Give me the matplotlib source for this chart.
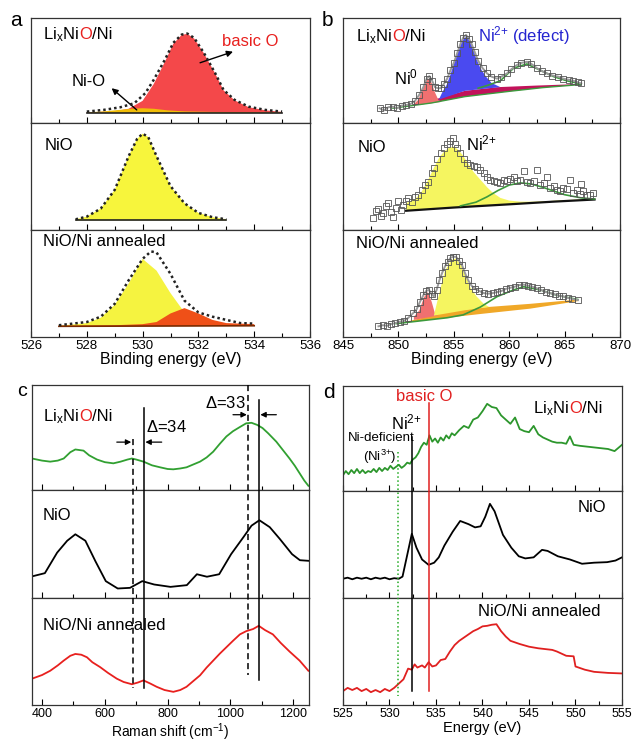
import numpy as np
import matplotlib
matplotlib.use('Agg')
import matplotlib.pyplot as plt
from matplotlib.lines import Line2D
from matplotlib.transforms import blended_transform_factory
from matplotlib.ticker import MultipleLocator

plt.rcParams['font.family'] = ['Liberation Sans', 'DejaVu Sans']
plt.rcParams['mathtext.fontset'] = 'custom'
plt.rcParams['mathtext.rm'] = 'Liberation Sans'
plt.rcParams['mathtext.it'] = 'Liberation Sans:italic'
plt.rcParams['mathtext.bf'] = 'Liberation Sans:bold'

# ---------------- data (intensities in a.u., 0..1 per sub-panel) ----------------
# a: O 1s XPS
a_top_env = [(528.0, 0.108), (528.6, 0.124), (529.2, 0.149), (529.7, 0.187), (530.1, 0.283), (530.4, 0.41),
             (530.8, 0.60), (531.1, 0.76), (531.4, 0.838), (531.6, 0.848), (531.85, 0.806), (532.2, 0.663),
             (532.6, 0.473), (532.9, 0.314), (533.3, 0.219), (533.8, 0.155), (534.4, 0.124), (535.0, 0.108)]
a_top_basic = [(528.0, 0.10), (529.0, 0.112), (529.5, 0.135), (530.0, 0.21), (530.4, 0.37), (530.8, 0.58),
               (531.1, 0.75), (531.4, 0.835), (531.6, 0.845), (531.85, 0.80), (532.2, 0.66), (532.6, 0.47),
               (532.9, 0.31), (533.3, 0.215), (533.8, 0.15), (534.4, 0.12), (535.0, 0.105)]
a_top_nio = [(528.0, 0.10), (528.6, 0.11), (529.2, 0.125), (529.6, 0.135), (530.0, 0.14), (530.4, 0.135),
             (530.9, 0.12), (531.5, 0.11), (532.5, 0.105), (535.0, 0.10)]
a_top_base = [(528.0, 0.095), (535.0, 0.095)]

a_mid_env = [(527.6, 0.10), (528.0, 0.125), (528.5, 0.20), (529.0, 0.375), (529.5, 0.69), (529.8, 0.85),
             (530.0, 0.90), (530.2, 0.87), (530.5, 0.69), (531.0, 0.41), (531.5, 0.25), (532.0, 0.16),
             (532.5, 0.12), (533.0, 0.10)]
a_mid_base = [(527.6, 0.09), (533.0, 0.09)]

a_bot_env = [(527.0, 0.11), (528.0, 0.14), (528.5, 0.19), (529.0, 0.31), (529.5, 0.53), (530.0, 0.73),
             (530.3, 0.80), (530.5, 0.79), (531.0, 0.59), (531.5, 0.34), (532.0, 0.23), (532.5, 0.19),
             (533.0, 0.16), (533.5, 0.13), (534.0, 0.125)]
a_bot_yellow = [(527.0, 0.105), (528.0, 0.13), (528.5, 0.18), (529.0, 0.30), (529.5, 0.50), (530.0, 0.73),
                (530.5, 0.62), (531.0, 0.41), (531.5, 0.23), (532.0, 0.14), (533.0, 0.11), (534.0, 0.105)]
a_bot_red = [(527.0, 0.105), (529.0, 0.11), (530.0, 0.12), (530.5, 0.14), (531.0, 0.22), (531.5, 0.27),
             (532.0, 0.22), (532.5, 0.16), (533.0, 0.13), (534.0, 0.12)]
a_bot_base = [(527.0, 0.10), (534.0, 0.105)]

# b: Ni 2p XPS
b_top_data = [(848.3, 0.14), (848.7, 0.12), (849.1, 0.15), (849.5, 0.155), (849.9, 0.14), (850.3, 0.165),
              (850.7, 0.17), (851.1, 0.18), (851.5, 0.21), (851.9, 0.27), (852.25, 0.34), (852.55, 0.42),
              (852.8, 0.445), (853.05, 0.40), (853.3, 0.34), (853.55, 0.33), (853.8, 0.33), (854.1, 0.37),
              (854.4, 0.42), (854.7, 0.50), (855.0, 0.57), (855.3, 0.66), (855.6, 0.75), (855.85, 0.81),
              (856.1, 0.835), (856.35, 0.80), (856.6, 0.75), (856.9, 0.67), (857.2, 0.59), (857.6, 0.52),
              (858.0, 0.47), (858.4, 0.44), (858.9, 0.42), (859.3, 0.44), (859.8, 0.47), (860.2, 0.51),
              (860.7, 0.55), (861.1, 0.57), (861.6, 0.58), (862.0, 0.56), (862.5, 0.52), (863.0, 0.49),
              (863.4, 0.47), (863.9, 0.45), (864.4, 0.44), (864.9, 0.42), (865.4, 0.41), (865.8, 0.40),
              (866.2, 0.385), (866.5, 0.375)]
b_top_ni0 = [(851.3, 0.17), (851.8, 0.22), (852.2, 0.33), (852.5, 0.40), (852.75, 0.42), (853.0, 0.38),
             (853.3, 0.29), (853.6, 0.22), (853.9, 0.20)]
b_top_ni0_base = [(851.3, 0.165), (853.9, 0.20)]
b_top_blue = [(853.6, 0.21), (854.0, 0.30), (854.35, 0.36), (854.7, 0.46), (855.0, 0.56), (855.3, 0.66),
              (855.6, 0.74), (855.9, 0.80), (856.1, 0.815), (856.4, 0.79), (856.7, 0.72), (857.0, 0.62),
              (857.4, 0.52), (857.9, 0.44), (858.4, 0.38), (859.2, 0.34)]
b_top_blue_base = [(853.6, 0.22), (856.0, 0.305), (859.2, 0.34)]
b_top_bg = [(849.5, 0.14), (853.0, 0.19), (856.0, 0.25), (860.0, 0.30), (863.0, 0.335), (866.5, 0.365)]
b_top_wedge = [(851.0, 0.16), (853.0, 0.215), (856.0, 0.305), (859.0, 0.34), (862.5, 0.355), (866.5, 0.37)]
b_top_sat = [(857.2, 0.33), (858.0, 0.355), (859.2, 0.40), (860.4, 0.52), (861.6, 0.56), (862.8, 0.50),
             (864.0, 0.44), (865.2, 0.40), (866.5, 0.37)]

b_mid_data = [(847.7, 0.11), (848.0, 0.18), (848.2, 0.20), (848.4, 0.13), (848.6, 0.16), (848.9, 0.22),
              (849.1, 0.25), (849.3, 0.17), (849.5, 0.125), (849.8, 0.21), (850.0, 0.27), (850.2, 0.19),
              (850.4, 0.23), (850.7, 0.27), (850.9, 0.30), (851.2, 0.26), (851.5, 0.31), (851.8, 0.33),
              (852.1, 0.375), (852.4, 0.42), (852.7, 0.45), (853.0, 0.53), (853.2, 0.58), (853.5, 0.66),
              (853.8, 0.72), (854.1, 0.766), (854.4, 0.80), (854.7, 0.83), (854.9, 0.86), (855.1, 0.80),
              (855.3, 0.77), (855.6, 0.72), (855.9, 0.66), (856.2, 0.63), (856.5, 0.61), (856.8, 0.60),
              (857.1, 0.59), (857.4, 0.56), (857.7, 0.53), (858.0, 0.50), (858.3, 0.47), (858.6, 0.46),
              (858.9, 0.45), (859.2, 0.44), (859.5, 0.47), (859.8, 0.46), (860.1, 0.48), (860.4, 0.50),
              (860.7, 0.46), (861.0, 0.47), (861.3, 0.55), (861.6, 0.45), (861.9, 0.44), (862.2, 0.46),
              (862.5, 0.56), (862.8, 0.42), (863.1, 0.44), (863.4, 0.50), (863.7, 0.39), (864.0, 0.41),
              (864.3, 0.37), (864.6, 0.36), (864.9, 0.39), (865.2, 0.38), (865.5, 0.47), (865.8, 0.35),
              (866.1, 0.37), (866.4, 0.34), (866.5, 0.43), (866.7, 0.36), (867.0, 0.33), (867.3, 0.33),
              (867.6, 0.35)]
b_mid_yellow = [(850.7, 0.25), (851.5, 0.29), (852.0, 0.34), (852.6, 0.45), (853.2, 0.58), (853.7, 0.68),
                (854.1, 0.73), (854.6, 0.77), (855.0, 0.78), (855.4, 0.75), (855.8, 0.70), (856.3, 0.62),
                (856.8, 0.54), (857.4, 0.47), (858.0, 0.40), (858.5, 0.35), (859.2, 0.30), (860.0, 0.275),
                (861.0, 0.265), (862.2, 0.265), (863.5, 0.27), (865.0, 0.28), (866.5, 0.285), (867.7, 0.29)]
b_mid_base = [(850.7, 0.18), (855.0, 0.21), (860.0, 0.24), (864.0, 0.265), (867.7, 0.285)]
b_mid_sat = [(855.6, 0.225), (857.0, 0.26), (858.0, 0.31), (859.0, 0.37), (860.0, 0.42), (861.0, 0.44),
             (862.0, 0.43), (863.0, 0.40), (864.0, 0.365), (865.0, 0.33), (866.5, 0.30), (867.7, 0.29)]

b_bot_data = [(848.2, 0.10), (848.6, 0.11), (849.0, 0.105), (849.3, 0.12), (849.7, 0.13), (850.1, 0.143),
              (850.5, 0.15), (850.9, 0.18), (851.3, 0.22), (851.65, 0.26), (851.95, 0.33), (852.25, 0.39),
              (852.5, 0.43), (852.75, 0.44), (853.0, 0.40), (853.2, 0.38), (853.45, 0.44), (853.7, 0.53),
              (853.95, 0.60), (854.2, 0.66), (854.45, 0.70), (854.7, 0.74), (854.95, 0.75), (855.2, 0.75),
              (855.5, 0.71), (855.75, 0.67), (856.0, 0.60), (856.3, 0.53), (856.6, 0.48), (856.9, 0.45),
              (857.3, 0.43), (857.7, 0.41), (858.1, 0.405), (858.5, 0.41), (858.9, 0.42), (859.3, 0.43),
              (859.7, 0.45), (860.1, 0.46), (860.5, 0.47), (860.9, 0.485), (861.3, 0.49), (861.7, 0.48),
              (862.1, 0.47), (862.5, 0.455), (862.9, 0.44), (863.3, 0.42), (863.7, 0.41), (864.1, 0.40),
              (864.5, 0.385), (864.9, 0.38), (865.3, 0.365), (865.7, 0.355), (866.2, 0.345)]
b_bot_ni0 = [(851.4, 0.19), (851.9, 0.25), (852.3, 0.37), (852.65, 0.42), (853.0, 0.33), (853.3, 0.22),
             (853.6, 0.19)]
b_bot_ni0_base = [(851.4, 0.16), (853.6, 0.20)]
b_bot_yellow = [(853.2, 0.20), (853.6, 0.37), (854.2, 0.62), (854.8, 0.72), (855.2, 0.735), (855.85, 0.64),
                (856.45, 0.47), (857.07, 0.377), (857.7, 0.31), (858.2, 0.28)]
b_bot_yellow_base = [(853.2, 0.20), (856.0, 0.25), (858.2, 0.28)]
b_bot_bg = [(849.8, 0.125), (854.4, 0.18), (857.4, 0.215), (861.9, 0.265), (866.2, 0.335)]
b_bot_wedge = [(851.0, 0.15), (854.4, 0.235), (857.4, 0.275), (861.9, 0.31), (866.2, 0.35)]
b_bot_sat = [(849.8, 0.125), (854.4, 0.18), (855.85, 0.207), (857.4, 0.28), (858.9, 0.377), (860.4, 0.44),
             (861.3, 0.47), (862.8, 0.44), (864.3, 0.39), (866.2, 0.35)]

# c: Raman
c_top = [(368, 0.30), (400, 0.28), (426, 0.27), (450, 0.28), (469, 0.30), (490, 0.36), (506, 0.386),
         (520, 0.38), (532, 0.375), (550, 0.33), (575, 0.29), (600, 0.265), (627, 0.254), (650, 0.27),
         (672, 0.29), (686, 0.30), (700, 0.29), (723, 0.27), (750, 0.235), (776, 0.216), (800, 0.20),
         (818, 0.197), (840, 0.205), (860, 0.216), (883, 0.245), (903, 0.27), (924, 0.31), (945, 0.365),
         (966, 0.44), (987, 0.51), (1008, 0.56), (1030, 0.60), (1050, 0.635), (1067, 0.64), (1085, 0.62),
         (1102, 0.59), (1120, 0.54), (1146, 0.46), (1167, 0.38), (1188, 0.30), (1205, 0.23), (1220, 0.16),
         (1235, 0.09), (1248, 0.04)]
c_mid = [(368, 0.20), (409, 0.23), (448, 0.42), (480, 0.53), (506, 0.59), (538, 0.53), (570, 0.34),
         (603, 0.156), (641, 0.088), (680, 0.094), (719, 0.156), (757, 0.125), (809, 0.103), (861, 0.119),
         (893, 0.22), (925, 0.197), (964, 0.22), (1002, 0.406), (1041, 0.5625), (1067, 0.67), (1092, 0.72),
         (1125, 0.656), (1157, 0.547), (1196, 0.406), (1221, 0.35), (1250, 0.344)]
c_bot = [(368, 0.246), (400, 0.28), (426, 0.32), (450, 0.37), (469, 0.415), (490, 0.46), (506, 0.477),
         (525, 0.47), (543, 0.446), (560, 0.40), (585, 0.354), (610, 0.30), (638, 0.246), (660, 0.215),
         (686, 0.194), (705, 0.21), (723, 0.23), (745, 0.20), (765, 0.17), (790, 0.14), (818, 0.123),
         (840, 0.14), (860, 0.17), (880, 0.22), (903, 0.277), (924, 0.35), (945, 0.415), (966, 0.48),
         (987, 0.54), (1008, 0.60), (1030, 0.66), (1050, 0.69), (1072, 0.71), (1090, 0.74), (1110, 0.70),
         (1135, 0.66), (1160, 0.58), (1188, 0.50), (1220, 0.415), (1248, 0.32)]
c_lines = [(690, '--'), (724, '-'), (1057, '--'), (1090, '-')]

# d: O K-edge XAS
d_top = [(525.0, 0.15), (525.3, 0.19), (525.6, 0.16), (525.9, 0.20), (526.2, 0.17), (526.5, 0.21),
         (526.8, 0.17), (527.1, 0.20), (527.4, 0.17), (527.7, 0.19), (528.0, 0.18), (528.3, 0.21),
         (528.6, 0.18), (528.9, 0.22), (529.2, 0.19), (529.5, 0.22), (529.8, 0.20), (530.1, 0.24),
         (530.4, 0.21), (530.7, 0.23), (531.0, 0.25), (531.3, 0.22), (531.6, 0.24), (531.9, 0.27),
         (532.2, 0.26), (532.5, 0.30), (532.8, 0.32), (533.1, 0.36), (533.4, 0.42), (533.7, 0.46),
         (534.0, 0.44), (534.3, 0.53), (534.6, 0.47), (534.9, 0.50), (535.2, 0.46), (535.5, 0.51),
         (535.8, 0.48), (536.1, 0.53), (536.4, 0.50), (536.7, 0.55), (537.0, 0.53), (537.5, 0.58),
         (538.0, 0.62), (538.5, 0.60), (539.0, 0.68), (539.5, 0.70), (540.0, 0.76), (540.5, 0.83),
         (541.0, 0.80), (541.5, 0.79), (542.0, 0.72), (542.5, 0.68), (543.0, 0.64), (543.5, 0.70),
         (544.0, 0.59), (544.5, 0.57), (545.0, 0.56), (545.5, 0.62), (546.0, 0.54), (546.5, 0.51),
         (547.0, 0.49), (547.5, 0.47), (548.0, 0.46), (548.5, 0.46), (549.0, 0.45), (549.4, 0.52),
         (549.8, 0.44), (550.5, 0.43), (551.5, 0.42), (552.5, 0.41), (553.5, 0.40), (554.2, 0.38),
         (555.0, 0.44)]
d_mid = [(525.0, 0.18), (525.5, 0.19), (526.0, 0.175), (526.5, 0.19), (527.0, 0.18), (527.5, 0.19),
         (528.0, 0.175), (528.5, 0.19), (529.0, 0.18), (529.5, 0.19), (530.0, 0.175), (530.5, 0.185),
         (531.0, 0.18), (531.4, 0.20), (531.9, 0.40), (532.4, 0.60), (532.9, 0.47), (533.5, 0.36),
         (534.2, 0.31), (534.8, 0.33), (535.3, 0.38), (535.9, 0.49), (536.8, 0.62), (537.6, 0.72),
         (538.5, 0.69), (539.2, 0.66), (539.8, 0.67), (540.3, 0.76), (540.8, 0.88), (541.3, 0.81),
         (542.2, 0.59), (543.1, 0.47), (543.9, 0.39), (544.6, 0.37), (545.5, 0.38), (546.4, 0.45),
         (547.0, 0.44), (548.1, 0.39), (549.4, 0.36), (550.7, 0.32), (552.0, 0.33), (553.4, 0.335),
         (554.3, 0.35), (555.0, 0.38)]
d_bot = [(525.0, 0.13), (525.5, 0.16), (526.0, 0.14), (526.5, 0.16), (527.0, 0.13), (527.5, 0.15),
         (528.0, 0.12), (528.5, 0.14), (529.0, 0.12), (529.5, 0.15), (530.0, 0.13), (530.5, 0.16),
         (531.0, 0.20), (531.5, 0.24), (532.0, 0.34), (532.4, 0.33), (532.7, 0.38), (533.0, 0.35),
         (533.5, 0.37), (533.8, 0.35), (534.2, 0.40), (534.6, 0.36), (535.0, 0.37), (535.5, 0.42),
         (536.0, 0.43), (536.5, 0.50), (537.0, 0.56), (537.5, 0.60), (538.0, 0.63), (538.5, 0.66),
         (539.0, 0.69), (539.5, 0.71), (540.0, 0.735), (540.5, 0.74), (541.0, 0.75), (541.5, 0.755),
         (542.0, 0.69), (542.5, 0.64), (543.0, 0.60), (543.5, 0.585), (544.0, 0.57), (545.0, 0.545),
         (546.0, 0.53), (547.0, 0.52), (547.5, 0.515), (548.0, 0.50), (548.5, 0.48), (549.0, 0.46),
         (549.8, 0.455), (550.0, 0.36), (551.0, 0.33), (552.0, 0.31), (553.5, 0.30), (555.0, 0.295)]
d_lines = [(530.9, '#22aa22', ':'), (532.4, 'k', '-'), (534.3, '#e02020', '-')]

# ---------------- figure ----------------
W, H = 635, 742
fig = plt.figure(figsize=(W / 100, H / 100), dpi=100)


def xy(pts):
    a = np.array(pts, dtype=float)
    return a[:, 0], a[:, 1]


def pax(l, t, r, b):
    return fig.add_axes([l / W, 1 - b / H, (r - l) / W, (b - t) / H])


def fx(x):
    return x / W


def fy(y):
    return 1 - y / H


def poly(ax, upper, lower, color, z=2):
    xu, yu = xy(upper)
    xl, yl = xy(lower)
    ax.fill(np.r_[xu, xl[::-1]], np.r_[yu, yl[::-1]], color=color, lw=0, zorder=z)


def style(ax, xlim, major, minor, bottom, lsize=9.5):
    ax.set_xlim(*xlim)
    ax.set_ylim(0, 1)
    ax.set_yticks([])
    ax.xaxis.set_major_locator(MultipleLocator(major))
    ax.xaxis.set_minor_locator(MultipleLocator(minor))
    ax.tick_params(axis='x', which='major', direction='in', length=4, width=0.8,
                   labelsize=lsize, labelbottom=bottom, pad=2.5)
    ax.tick_params(axis='x', which='minor', direction='in', length=3, width=0.8)
    for s in ax.spines.values():
        s.set_linewidth(0.9)
        s.set_color('#333333')


def lixnio(ax, x, yc, size=12, color='k'):
    yb = fy(yc + 0.36 * size * 100 / 72)
    t1 = fig.text(fx(x), yb, r'Li$_\mathregular{x}$Ni', fontsize=size, va='baseline', color=color)
    t2 = ax.annotate('O', xy=(1, yb), xycoords=(t1, 'figure fraction'), va='baseline', ha='left',
                     fontsize=size, color='#e8201e', annotation_clip=False)
    ax.annotate('/Ni', xy=(1, yb), xycoords=(t2, 'figure fraction'), va='baseline', ha='left',
                fontsize=size, color=color, annotation_clip=False)


def label(x, yc, s, size=12, color='k', ha='left'):
    fig.text(fx(x), fy(yc), s, fontsize=size, color=color, ha=ha, va='center')


NI2 = r'Ni$^{\mathregular{2{+}}}$'

# ---- panel a ----
a1 = pax(31, 17.5, 310, 123)
a2 = pax(31, 123, 310, 230)
a3 = pax(31, 230, 310, 337)
for ax in (a1, a2, a3):
    style(ax, (526, 536), 2, 1, ax is a3)

poly(a1, a_top_basic, a_top_base, '#f4484a')
poly(a1, a_top_nio, a_top_base, '#f0bd08', 3)
a1.plot(*xy(a_top_base), color='#222222', lw=1.2, zorder=4)
a1.plot(*xy(a_top_env), color='#222222', lw=1.8, ls=(0, (1, 1.2)), zorder=5)
a1.annotate('', xy=(533.24, 0.676), xytext=(532.06, 0.571),
            arrowprops=dict(arrowstyle='-|>', color='k', lw=1, mutation_scale=9, shrinkA=0, shrinkB=0))
a1.annotate('', xy=(528.89, 0.33), xytext=(529.79, 0.124),
            arrowprops=dict(arrowstyle='-|>', color='k', lw=1, mutation_scale=9, shrinkA=0, shrinkB=0))

poly(a2, a_mid_env, a_mid_base, '#f7f53c')
a2.plot(*xy(a_mid_base), color='#222222', lw=1.2, zorder=4)
a2.plot(*xy(a_mid_env), color='#222222', lw=1.8, ls=(0, (1, 1.2)), zorder=5)

poly(a3, a_bot_yellow, a_bot_base, '#f5f340')
poly(a3, a_bot_red, a_bot_base, '#ef5018', 3)
a3.plot(*xy(a_bot_base), color='#7a2a00', lw=1.2, zorder=4)
a3.plot(*xy(a_bot_env), color='#222222', lw=1.8, ls=(0, (1, 1.2)), zorder=5)
a3.set_xlabel('Binding energy (eV)', fontsize=11.5, labelpad=0)

lixnio(a1, 43, 33)
label(222, 41, 'basic O', color='#e8201e')
label(72, 81, 'Ni-O')
label(45, 145, 'NiO')
label(43, 242, 'NiO/Ni annealed')
label(10, 20, 'a', size=15)

# ---- panel b ----
b1 = pax(343, 17.5, 620, 123)
b2 = pax(343, 123, 620, 230)
b3 = pax(343, 230, 620, 337)
for ax in (b1, b2, b3):
    style(ax, (845, 870), 5, 2.5, ax is b3)

mk = dict(ls='none', marker='s', ms=3.8, mfc='none', mec='#555555', mew=0.6, zorder=6)
rope = dict(color='#9a9a9a', lw=1.4, zorder=5)
poly(b1, b_top_wedge, b_top_bg, '#c2125a')
poly(b1, b_top_ni0, b_top_ni0_base, '#f07070', 3)
poly(b1, b_top_blue, b_top_blue_base, '#4a4af0', 3)
b1.plot(*xy(b_top_bg), color='#3c9a3c', lw=1, zorder=4)
b1.plot(*xy(b_top_sat), color='#3c9a3c', lw=1.2, zorder=4)
b1.plot(*xy(b_top_data), **rope)
b1.plot(*xy(b_top_data), **mk)

poly(b2, b_mid_yellow, b_mid_base, '#f5f560')
b2.plot(*xy(b_mid_base), color='#111111', lw=1.6, zorder=4)
b2.plot(*xy(b_mid_sat), color='#3c9a3c', lw=1.2, zorder=4)
b2.plot(*xy(b_mid_data), **mk)

poly(b3, b_bot_wedge, b_bot_bg, '#f0a828')
poly(b3, b_bot_ni0, b_bot_ni0_base, '#f07070', 3)
poly(b3, b_bot_yellow, b_bot_yellow_base, '#f5f560', 3)
b3.plot(*xy(b_bot_sat), color='#3c9a3c', lw=1.2, zorder=4)
b3.plot(*xy(b_bot_data), **rope)
b3.plot(*xy(b_bot_data), **mk)
b3.set_xlabel('Binding energy (eV)', fontsize=11.5, labelpad=0)

lixnio(b1, 356, 35)
label(478, 36, NI2 + ' (defect)', color='#2424d0')
label(394, 77, r'Ni$^{\mathregular{0}}$')
label(358, 147, 'NiO')
label(466, 143, NI2)
label(356, 244, 'NiO/Ni annealed')
label(322, 20, 'b', size=15)

# ---- panel c ----
c1 = pax(32, 385, 309, 490)
c2 = pax(32, 490, 309, 598)
c3 = pax(32, 598, 309, 705)
for ax in (c1, c2, c3):
    style(ax, (368, 1250), 200, 100, ax is c3, 9)
c1.plot(*xy(c_top), color='#31a031', lw=1.3)
c2.plot(*xy(c_mid), color='k', lw=1.3)
c3.plot(*xy(c_bot), color='#e8201e', lw=1.3)
c3.set_xlabel(r'Raman shift (cm$^{\mathregular{-1}}$)', fontsize=10, labelpad=0.5)

ctr = blended_transform_factory(c3.transData, fig.transFigure)
c_spans = [(439, 688), (408, 688), (385, 675), (400, 680)]
for (xv, ls), (y0, y1) in zip(c_lines, c_spans):
    fig.add_artist(Line2D([xv, xv], [fy(y0), fy(y1)], transform=ctr, color='k', lw=1.1,
                          ls=(0, (4, 2.5)) if ls == '--' else '-'))

arr = dict(arrowstyle='-|>', color='k', lw=0.9, mutation_scale=8, shrinkA=0, shrinkB=0)
c1.annotate('', xy=(684, 0.456), xytext=(638, 0.456), arrowprops=arr)
c1.annotate('', xy=(729, 0.456), xytext=(781, 0.456), arrowprops=arr)
c1.annotate('', xy=(1052, 0.717), xytext=(1008, 0.717), arrowprops=arr)
c1.annotate('', xy=(1095, 0.717), xytext=(1146, 0.717), arrowprops=arr)
c1.text(795, 0.60, r'$\mathit{\Delta}$=34', fontsize=12, ha='center', va='center')
c1.text(982, 0.83, r'$\mathit{\Delta}$=33', fontsize=12, ha='center', va='center')

lixnio(c1, 43, 415)
label(43, 516, 'NiO')
label(43, 626, 'NiO/Ni annealed')
label(17, 391, 'c', size=14)

# ---- panel d ----
d1 = pax(343, 386, 622, 491)
d2 = pax(343, 491, 622, 598)
d3 = pax(343, 598, 622, 705)
for ax in (d1, d2, d3):
    style(ax, (525, 555), 5, 2.5, ax is d3, 9)
d1.plot(*xy(d_top), color='#2c962c', lw=1.3)
d2.plot(*xy(d_mid), color='k', lw=1.3)
d3.plot(*xy(d_bot), color='#e02020', lw=1.3)
d3.set_xlabel('Energy (eV)', fontsize=10.5, labelpad=0.5)

dtr = blended_transform_factory(d3.transData, fig.transFigure)
d_spans = [(452, 696), (437, 691), (403, 691)]
for (xv, col, ls), (y0, y1) in zip(d_lines, d_spans):
    fig.add_artist(Line2D([xv, xv], [fy(y0), fy(y1)], transform=dtr, color=col, lw=1.1, ls=ls))

label(424, 397, 'basic O', color='#e02020', ha='center')
label(391, 422, NI2)
label(381, 438, 'Ni-deficient', size=9.5, ha='center')
label(380, 457, r'(Ni$^{\mathregular{3{+}}}$)', size=9.5, ha='center')
lixnio(d1, 533, 407)
label(578, 507, 'NiO')
label(478, 612, 'NiO/Ni annealed')
label(323, 392, 'd', size=15)

fig.savefig('out.png', dpi=100)
